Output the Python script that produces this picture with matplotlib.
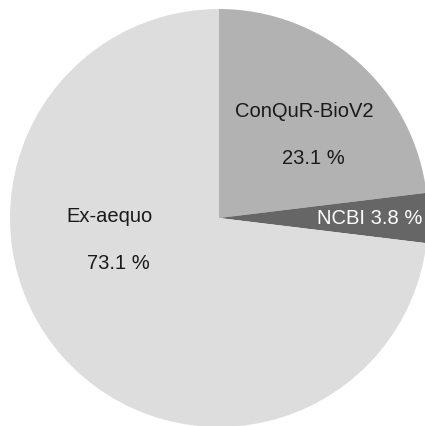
import numpy as np
import matplotlib
matplotlib.use('Agg')
import matplotlib.pyplot as plt

# Data
categories = ['ConQuR-BioV2', 'NCBI', 'Ex-aequo']
counts = [6, 1, 19]
colors = ['#b2b2b2', '#666666', '#dddddd']

# Label layout: (angle in degrees, radius fraction, two-line or not, text colour)
label_pos = {
    'ConQuR-BioV2': (43, 0.59, True, '#1a1a1a'),
    'NCBI': (0, 0.72, False, 'white'),
    'Ex-aequo': (191, 0.51, True, '#1a1a1a'),
}

plt.rcParams['font.family'] = ['Liberation Sans', 'DejaVu Sans']

fig = plt.figure(figsize=(4.25, 4.26), dpi=100)
ax = fig.add_axes([0, 0, 1, 1])

cx, cy, r = 219, 208, 209
ax.pie(counts, colors=colors, startangle=90, counterclock=False,
       center=(cx, cy), radius=r, wedgeprops=dict(linewidth=0))

total = sum(counts)
for name, n in zip(categories, counts):
    ang, frac, two_lines, col = label_pos[name]
    x = cx + frac * r * np.cos(np.radians(ang))
    y = cy + frac * r * np.sin(np.radians(ang))
    pct = f'{100 * n / total:.1f} %'
    if two_lines:
        ax.text(x - 5, y + 22, name, ha='center', va='center', fontsize=14.5, color=col)
        ax.text(x + 4, y - 25, pct, ha='center', va='center', fontsize=14.5, color=col)
    else:
        ax.text(x, y, f'{name} {pct}', ha='center', va='center', fontsize=14.5, color=col)

ax.set_xlim(0, 425)
ax.set_ylim(0, 426)
ax.set_aspect('equal')
ax.axis('off')

fig.savefig('out.png', dpi=100)
